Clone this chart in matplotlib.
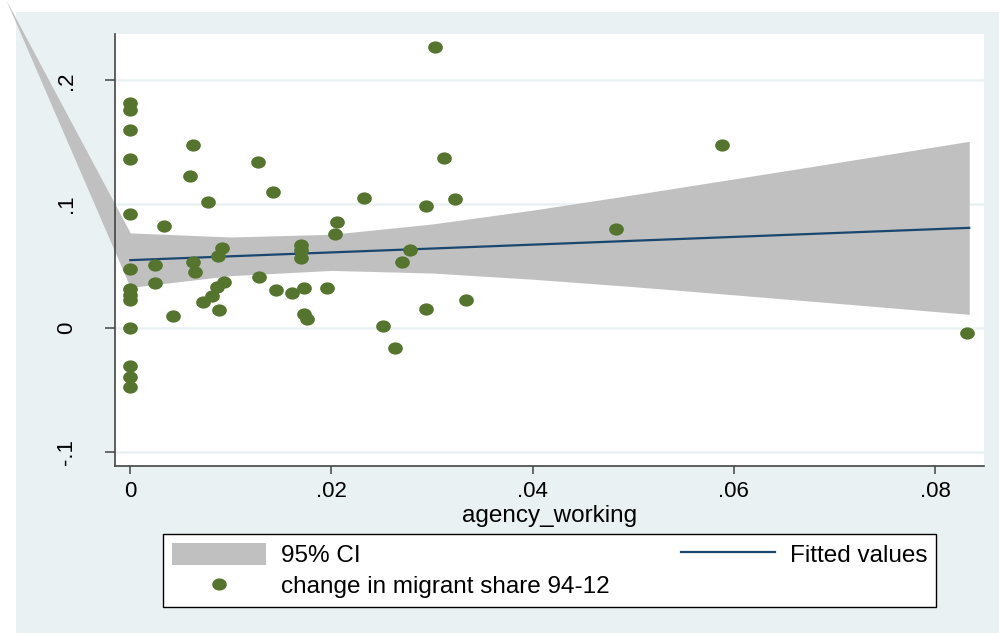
import matplotlib
matplotlib.use("Agg")
import matplotlib.pyplot as plt
from matplotlib.path import Path
from matplotlib.markers import MarkerStyle
from matplotlib.transforms import Affine2D
from matplotlib.patches import Rectangle, Patch
from matplotlib.lines import Line2D

plt.rcParams['font.family'] = ['Liberation Sans', 'DejaVu Sans']

# scatter data: agency_working vs change in migrant share 94-12
agency = [0, 0, 0, 0, 0, 0, 0, 0, 0, 0, 0, 0, 0,
          0.00246, 0.00246, 0.00338, 0.00427, 0.00593, 0.0062,
          0.00626, 0.00646, 0.00726, 0.00775, 0.00809, 0.00865, 0.00882,
          0.00875, 0.00915, 0.00932, 0.0127, 0.01276, 0.01419,
          0.01448, 0.01604, 0.01697, 0.01697, 0.01697, 0.01727, 0.01727,
          0.01754, 0.01952, 0.02032, 0.02055, 0.02323, 0.02515, 0.02628,
          0.02701, 0.02781, 0.02937, 0.0294, 0.03032, 0.03122, 0.03228,
          0.03337, 0.04829, 0.05882, 0.08318]
migshare = [0.1813, 0.1757, 0.1595, 0.1361, 0.0916, 0.0479, 0.0310, 0.0269,
            0.0229, 0.0, -0.031, -0.0394, -0.0475,
            0.0504, 0.0366, 0.0819, 0.0099, 0.1223, 0.1474,
            0.0536, 0.0455, 0.0205, 0.1013, 0.0261, 0.0334, 0.0148,
            0.0584, 0.0649, 0.0374, 0.1336, 0.0407, 0.1094,
            0.0302, 0.0285, 0.0673, 0.0633, 0.0568, 0.0326, 0.0108,
            0.0075, 0.0318, 0.0762, 0.0859, 0.1053, 0.0019, -0.0159,
            0.0536, 0.0633, 0.0156, 0.0981, 0.2266, 0.1369, 0.1037,
            0.0229, 0.0795, 0.1474, -0.0038]

# fitted line and confidence band (first point is the stray vertex top-left)
fit_x = [0, 0.0834]
fit_y = [0.0547, 0.0808]
ci_x = [-0.01236, 0, 0.01, 0.02, 0.03, 0.04, 0.05, 0.06, 0.07, 0.0834]
ci_hi = [0.2650, 0.0767, 0.0734, 0.0756, 0.0839, 0.0951, 0.1075, 0.1203, 0.1332, 0.1507]
ci_lo = [0.2650, 0.0327, 0.0422, 0.0464, 0.0443, 0.0393, 0.0333, 0.0267, 0.0200, 0.0109]

xticks = [0, 0.02, 0.04, 0.06, 0.08]
xlabels = ["0", ".02", ".04", ".06", ".08"]
yticks = [-0.1, 0, 0.1, 0.2]
ylabels = ["-.1", "0", ".1", ".2"]

bg = "#eaf1f3"
green = "#55752f"
navy = "#1a476f"
W, H = 999, 633

fig = plt.figure(figsize=(W / 100, H / 100), dpi=100, facecolor="white")
fig.patches.append(Rectangle((16 / W, 0), 1, (H - 12) / H, transform=fig.transFigure,
                             facecolor=bg, edgecolor="none", zorder=-10))

ax = fig.add_axes([115 / W, (H - 466) / H, 869 / W, 432 / H])
ax.set_facecolor("white")
ax.set_xlim(-0.00152, 0.08487)
ax.set_ylim(-0.1116, 0.2374)

# ellipse marker (graph is stretched sideways)
ell = MarkerStyle(Path.unit_circle().transformed(Affine2D().scale(1.2, 1.0)))

ax.fill_between(ci_x, ci_lo, ci_hi, color="#c0c0c0", lw=0, clip_on=False, zorder=2)
ax.plot(fit_x, fit_y, color=navy, lw=1.6, zorder=3)
ax.scatter(agency, migshare, marker=ell, s=112, color=green, lw=0, zorder=4)

ax.set_yticks(yticks)
ax.set_yticklabels(ylabels, rotation=90, va="center", fontsize=16)
ax.set_xticks(xticks)
ax.set_xticklabels(xlabels, fontsize=16)
ax.tick_params(axis="y", length=7.2, width=1.1, color="#444", pad=20)
ax.tick_params(axis="x", length=5.8, width=1.1, color="#444", pad=5)
ax.grid(axis="y", color=bg, lw=1.8, zorder=0)
ax.set_axisbelow(True)
for s in ["top", "right"]:
    ax.spines[s].set_visible(False)
for s in ["left", "bottom"]:
    ax.spines[s].set_color("#444")
    ax.spines[s].set_linewidth(1.2)

ax.set_xlabel("agency_working", fontsize=17.5, va="center")
ax.xaxis.set_label_coords(0.5, -50 / 432)

handles = [Patch(facecolor="#c0c0c0", edgecolor="none"),
           Line2D([], [], marker=ell, ls="none", ms=10.5, color=green, mec="none"),
           Line2D([], [], color=navy, lw=1.6)]
labels = ["95% CI", "change in migrant share 94-12", "Fitted values"]
leg = fig.legend(handles, labels, ncol=2, loc="lower left", mode="expand",
                 bbox_to_anchor=(163 / W, (H - 607) / H, (936 - 163) / W, (607 - 536) / H),
                 bbox_transform=fig.transFigure, borderaxespad=0, fontsize=17.5,
                 frameon=True, fancybox=False, edgecolor="black", framealpha=1,
                 handlelength=3.9, handleheight=1.0, handletextpad=0.6,
                 labelspacing=0.3, borderpad=0.35)
leg.get_frame().set_linewidth(1.0)

fig.savefig("out.png", dpi=100, facecolor="white")
